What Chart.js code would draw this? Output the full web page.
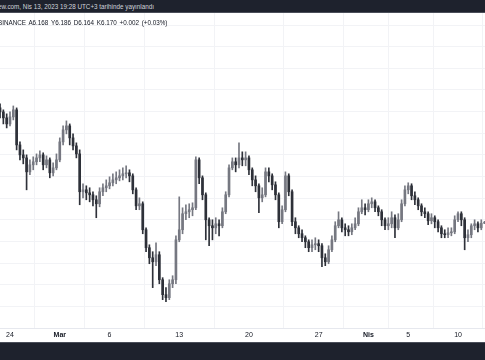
<!DOCTYPE html>
<html>
<head>
<meta charset="utf-8">
<script src="https://cdn.jsdelivr.net/npm/chart.js@4.4.0/dist/chart.umd.min.js"></script>
<style>
    body { margin: 0; width: 485px; height: 360px; overflow: hidden; background: #ffffff; position: relative; font-family: "Liberation Sans", Arial, sans-serif; }
    #top-bar { position: absolute; left: 0; top: 0; width: 485px; height: 13px; background: #1e222d; border-bottom: 1px solid #4a4e59; box-sizing: border-box; }
    #top-bar span { position: absolute; left: -2px; top: 2.5px; font-size: 6.3px; color: #d1d4dc; white-space: nowrap; }
    #bottom-bar { position: absolute; left: 0; top: 342px; width: 485px; height: 18px; background: #1e222d; border-top: 1px solid #4a4e59; box-sizing: border-box; }
    #chart-box { position: absolute; left: 0; top: 13px; width: 485px; height: 329px; }
    #legend { position: absolute; left: -2px; top: 18.5px; font-size: 6.3px; color: #131722; white-space: nowrap; word-spacing: 1px; }
</style>
</head>
<body>
<div id="top-bar"><span>ew.com, Nis 13, 2023 19:28 UTC+3 tarihinde yayınlandı</span></div>
<div id="chart-box"><canvas id="price-chart"></canvas></div>
<div id="legend">BINANCE A6.168 Y6.186 D6.164 K6.170 +0.002 (+0.03%)</div>
<div id="bottom-bar"></div>
<script>
// 8h candles, first one on Feb 23 00:00 (day offsets counted from Feb 24)
const startDay = -1;
const barsPerDay = 3;

const firstOpen = 7.234;
const closes = [
    7.197, 7.142, 7.086, 7.151, 7.216, 6.892, 6.800, 6.772, 6.643, 6.708,
    6.736, 6.772, 6.800, 6.708, 6.754, 6.634, 6.680, 6.754, 6.920, 7.031,
    7.068, 6.957, 6.883, 6.809, 6.459, 6.477, 6.449, 6.431, 6.385, 6.348,
    6.459, 6.496, 6.514, 6.542, 6.569, 6.588, 6.606, 6.625, 6.634, 6.606,
    6.477, 6.329, 6.348, 6.108, 5.942, 5.849, 5.812, 5.877, 5.646, 5.508,
    5.480, 5.609, 5.646, 6.015, 6.108, 6.256, 6.274, 6.293, 6.311, 6.754,
    6.588, 6.431, 6.200, 6.145, 6.126, 6.163, 6.145, 6.274, 6.431, 6.680,
    6.736, 6.708, 6.772, 6.754, 6.772, 6.662, 6.569, 6.514, 6.403, 6.431,
    6.643, 6.606, 6.523, 6.431, 6.182, 6.293, 6.606, 6.459, 6.182, 6.126,
    6.071, 6.034, 5.997, 5.942, 5.969, 5.979, 5.960, 5.849, 5.812, 5.923,
    6.015, 6.145, 6.200, 6.126, 6.108, 6.089, 6.126, 6.163, 6.274, 6.311,
    6.293, 6.348, 6.366, 6.311, 6.274, 6.200, 6.145, 6.163, 6.219, 6.126,
    6.200, 6.348, 6.477, 6.514, 6.422, 6.385, 6.329, 6.274, 6.256, 6.191,
    6.219, 6.182, 6.126, 6.071, 6.062, 6.080, 6.089, 6.200, 6.256, 6.200,
    6.034, 6.062, 6.145, 6.163, 6.126, 6.168, 6.170
];
const highs = [
    7.271, 7.216, 7.179, 7.197, 7.252, 7.234, 6.920, 6.846, 6.800, 6.754,
    6.782, 6.809, 6.837, 6.819, 6.791, 6.772, 6.726, 6.809, 6.957, 7.068,
    7.114, 7.086, 6.994, 6.911, 6.846, 6.533, 6.514, 6.496, 6.459, 6.422,
    6.496, 6.533, 6.569, 6.597, 6.625, 6.643, 6.662, 6.680, 6.699, 6.662,
    6.625, 6.496, 6.403, 6.366, 6.126, 5.969, 5.905, 5.988, 5.905, 5.665,
    5.573, 5.646, 5.683, 6.052, 6.412, 6.311, 6.339, 6.348, 6.357, 6.782,
    6.772, 6.606, 6.449, 6.219, 6.200, 6.219, 6.200, 6.311, 6.459, 6.708,
    6.772, 6.772, 6.911, 6.828, 6.828, 6.791, 6.680, 6.606, 6.533, 6.496,
    6.680, 6.680, 6.625, 6.551, 6.449, 6.329, 6.643, 6.625, 6.477, 6.219,
    6.145, 6.108, 6.052, 6.015, 6.015, 6.034, 6.015, 5.979, 5.886, 5.960,
    6.052, 6.182, 6.274, 6.219, 6.163, 6.145, 6.163, 6.219, 6.311, 6.385,
    6.348, 6.385, 6.403, 6.385, 6.329, 6.293, 6.219, 6.219, 6.274, 6.246,
    6.256, 6.385, 6.514, 6.542, 6.533, 6.459, 6.403, 6.348, 6.311, 6.274,
    6.256, 6.237, 6.200, 6.145, 6.108, 6.126, 6.126, 6.237, 6.274, 6.274,
    6.219, 6.108, 6.163, 6.200, 6.182, 6.200, 6.186
];
const lows = [
    7.142, 7.086, 7.049, 7.068, 7.123, 6.846, 6.754, 6.717, 6.477, 6.616,
    6.662, 6.708, 6.736, 6.662, 6.680, 6.588, 6.606, 6.662, 6.736, 6.892,
    6.994, 6.892, 6.846, 6.772, 6.339, 6.403, 6.385, 6.366, 6.329, 6.219,
    6.320, 6.422, 6.459, 6.486, 6.514, 6.533, 6.560, 6.569, 6.588, 6.551,
    6.440, 6.293, 6.293, 6.071, 5.905, 5.794, 5.573, 5.776, 5.609, 5.462,
    5.443, 5.462, 5.573, 5.609, 5.997, 6.071, 6.200, 6.219, 6.237, 6.293,
    6.533, 6.385, 6.015, 5.960, 6.015, 6.071, 6.052, 6.126, 6.256, 6.412,
    6.662, 6.643, 6.680, 6.699, 6.699, 6.616, 6.514, 6.459, 6.265, 6.366,
    6.412, 6.551, 6.477, 6.385, 6.126, 6.163, 6.274, 6.422, 6.145, 6.071,
    6.034, 5.997, 5.942, 5.905, 5.905, 5.923, 5.905, 5.766, 5.776, 5.794,
    5.905, 5.997, 6.126, 6.089, 6.052, 6.052, 6.062, 6.108, 6.145, 6.256,
    6.246, 6.274, 6.311, 6.274, 6.237, 6.145, 6.108, 6.108, 6.126, 6.034,
    6.108, 6.182, 6.329, 6.440, 6.385, 6.339, 6.293, 6.237, 6.219, 6.154,
    6.163, 6.126, 6.089, 6.034, 6.034, 6.034, 6.052, 6.071, 6.182, 6.145,
    5.923, 5.997, 6.034, 6.108, 6.089, 6.108, 6.164
];

// time axis labels (days from Feb 24)
const tickDays = [0, 5, 10, 17, 24, 31, 36, 40, 45];
const tickLabels = ["24", "Mar", "6", "13", "20", "27", "Nis", "5", "10"];
// horizontal grid levels
const priceGrid = [5.2, 5.4, 5.6, 5.8, 6.0, 6.2, 6.4, 6.6, 6.8, 7.0, 7.2, 7.4, 7.6, 7.8, 8.0];

const upColor = "#767881";
const downColor = "#2e3139";
const gridColor = "#f2f3f6";

const opens = [firstOpen].concat(closes.slice(0, -1));
const bodies = [];
const wicks = [];
const colors = [];
closes.forEach((c, i) => {
    const day = startDay + i / barsPerDay;
    bodies.push({ x: day, y: [opens[i], c] });
    wicks.push({ x: day, y: [lows[i], highs[i]] });
    colors.push(c >= opens[i] ? upColor : downColor);
});

new Chart(document.getElementById("price-chart").getContext("2d"), {
    type: "bar",
    data: {
        datasets: [
            {
                label: "wick",
                data: wicks,
                backgroundColor: colors,
                barThickness: 1,
                grouped: false,
                borderWidth: 0
            },
            {
                label: "body",
                data: bodies,
                backgroundColor: colors,
                barThickness: 2,
                minBarLength: 1,
                grouped: false,
                borderWidth: 0
            }
        ]
    },
    options: {
        responsive: true,
        maintainAspectRatio: false,
        animation: false,
        layout: { padding: 0 },
        plugins: {
            legend: { display: false },
            tooltip: { enabled: false }
        },
        scales: {
            x: {
                type: "linear",
                min: -1.004,
                max: 47.71,
                offset: false,
                grid: { color: gridColor, drawTicks: false },
                border: { color: "#e6e8ee" },
                afterBuildTicks: (scale) => {
                    scale.ticks = tickDays.map(v => ({ value: v }));
                },
                afterFit: (scale) => { scale.height = 14; },
                ticks: {
                    autoSkip: false,
                    maxRotation: 0,
                    padding: 3,
                    color: "#131722",
                    font: (ctx) => ({
                        family: "Liberation Sans",
                        size: 7,
                        weight: (ctx.index === 1 || ctx.index === 6) ? "bold" : "normal"
                    }),
                    callback: (value, index) => tickLabels[index]
                }
            },
            y: {
                position: "right",
                min: 5.2,
                max: 8.111,
                grid: { color: gridColor, drawTicks: false },
                border: { display: false },
                afterBuildTicks: (scale) => {
                    scale.ticks = priceGrid.map(v => ({ value: v }));
                },
                afterFit: (scale) => { scale.width = 0; },
                ticks: { display: false }
            }
        }
    }
});
</script>
</body>
</html>
